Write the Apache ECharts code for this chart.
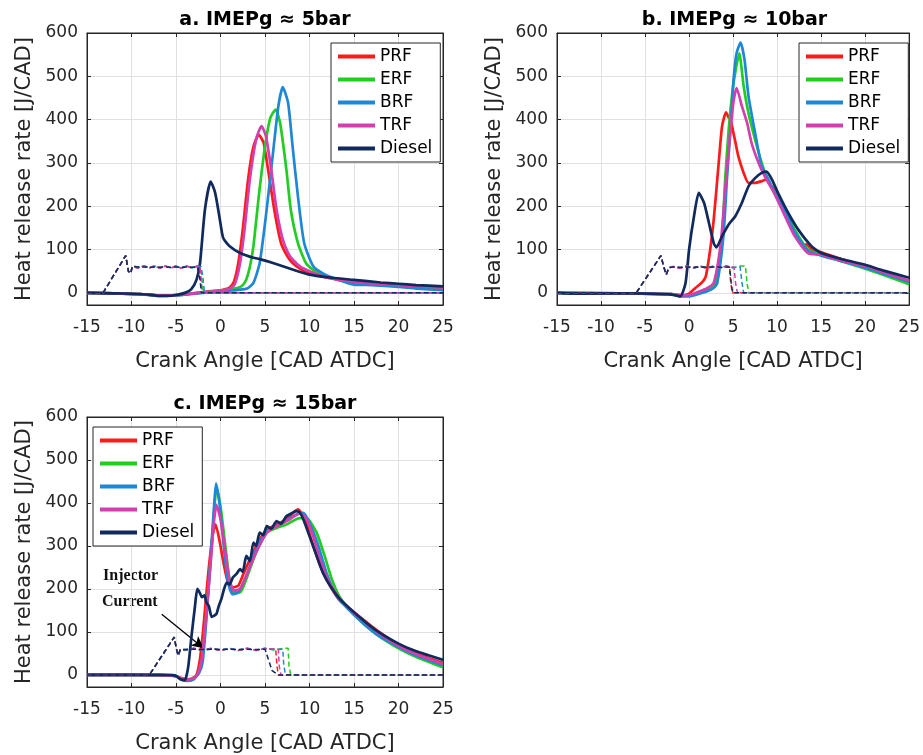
<!DOCTYPE html>
<html>
<head>
<meta charset="utf-8">
<script src="https://cdn.jsdelivr.net/npm/echarts@6.0.0/dist/echarts.min.js"></script>
<style>
html,body{margin:0;padding:0;background:#fff;}
#chart{width:923px;height:755px;}
</style>
</head>
<body>
<div id="chart"></div>
<script>
// ---------- data ----------
const fuels = ['PRF', 'ERF', 'BRF', 'TRF', 'Diesel'];
const panelTitles = ['a. IMEPg \u2248 5bar', 'b. IMEPg \u2248 10bar', 'c. IMEPg \u2248 15bar'];
const xTicks = [-15, -10, -5, 0, 5, 10, 15, 20, 25];
const yTicks = [0, 100, 200, 300, 400, 500, 600];

// Panel a: heat release rate [x (CAD ATDC), y (J/CAD)]
const a_PRF = [[-15,0],[-12,-1],[-9,-3],[-7,-6],[-5,-5],[-3,-1],[-2,2],[-1,4],[0,6],[0.5,8],[1,12],[1.5,25],[2,69],[2.5,146],[3.1,262],[3.7,338],[4.3,365],[4.85,346],[5.4,277],[6.1,185],[6.8,115],[7.5,85],[8.1,69],[9,55],[10,46],[11,40],[12,35],[13,31],[14,27],[15,24],[16,23],[17,22],[18,20],[20,18],[22,15],[25,12]];
const a_ERF = [[-15,0],[-12,-1],[-9,-3],[-7,-6],[-5,-5],[-3,-1],[-2,1],[-1,3],[0,5],[1,8],[2,12],[2.5,18],[2.9,31],[3.3,60],[3.7,108],[4.3,223],[5.0,338],[5.6,404],[6.2,423],[6.7,392],[7.4,285],[7.9,192],[8.7,115],[9.6,69],[10.5,52],[11.5,42],[13,32],[15,22],[17,20],[20,16],[22,12],[25,8]];
const a_BRF = [[-15,0],[-12,-1],[-9,-3],[-7,-7],[-5,-6],[-3,-2],[-2,0],[-1,2],[0,3],[1,5],[2,7],[3,10],[3.7,23],[4.4,69],[5.1,177],[5.9,323],[6.5,431],[7.0,475],[7.6,438],[8.1,338],[8.7,223],[9.4,115],[10.4,62],[11.5,45],[13,32],[15,19],[17,18],[20,14],[22,10],[25,6]];
const a_TRF = [[-15,0],[-12,-1],[-9,-3],[-7,-6],[-5,-5],[-3,-1],[-2,1],[-1,3],[0,5],[1,9],[1.6,20],[2.2,69],[2.7,146],[3.3,262],[4.0,354],[4.6,385],[5.1,362],[5.7,285],[6.3,192],[7.0,123],[7.6,92],[8.1,77],[9,60],[10,50],[11,42],[12,36],[13,31],[14,28],[15,26],[17,22],[20,18],[22,15],[25,12]];
const a_Diesel = [[-15,0],[-12,-1],[-10,-2],[-8,-4],[-7,-7],[-6,-7],[-5,-5],[-4,0],[-3.3,8],[-2.7,30],[-2.3,69],[-1.75,192],[-1.1,257],[-0.6,231],[-0.07,169],[0.3,127],[1.0,108],[2.2,92],[3.7,81],[4.4,78],[5.9,69],[8.1,54],[10,42],[12,36],[15,30],[18,24],[20,21],[22,18],[25,15]];

// Panel b
const b_PRF = [[-15,0],[-12,-1],[-8,-1],[-5,-2],[-2,-3],[-1,-5],[-0.5,-5],[0,-2],[0.75,12],[1.5,25],[1.9,38],[2.4,100],[2.8,169],[3.4,308],[3.75,385],[4.2,417],[4.5,405],[4.7,400],[5.2,354],[5.6,315],[6.2,277],[6.75,254],[7.5,254],[8.25,258],[8.8,262],[9.2,250],[9.75,238],[10.9,192],[12,138],[13.1,108],[13.3,112],[14,100],[15,94],[17,80],[20,62],[22,48],[25,25]];
const b_ERF = [[-15,0],[-8,-1],[-2,-3],[-1,-7],[0,-6],[1,0],[2,6],[2.6,12],[3.0,23],[3.75,131],[4.1,262],[4.5,377],[4.95,469],[5.3,515],[5.7,553],[6.2,477],[6.75,415],[7.5,354],[8.25,300],[8.8,269],[9.75,231],[10.9,192],[12,146],[13.5,100],[15,88],[17,75],[20,56],[22,42],[25,20]];
const b_BRF = [[-15,0],[-8,-1],[-2,-3],[-1,-8],[0,-8],[1,-3],[2,3],[2.7,10],[3.2,23],[3.9,131],[4.3,262],[4.7,377],[5.05,492],[5.4,554],[5.85,578],[6.3,538],[6.75,454],[7.5,369],[8.25,292],[9.0,262],[9.75,231],[10.9,190],[12,140],[13.5,98],[15,86],[17,75],[20,58],[22,45],[25,25]];
const b_TRF = [[-15,0],[-8,-1],[-2,-3],[-1,-6],[0,-5],[1,2],[2,10],[2.8,23],[3.6,115],[4.1,238],[4.6,354],[5.05,442],[5.4,473],[6.0,431],[6.6,392],[7.1,346],[7.9,300],[8.6,269],[9.75,227],[10.9,177],[12,131],[13.5,92],[15,88],[17,76],[20,62],[22,48],[25,28]];
const b_Diesel = [[-15,0],[-12,-2],[-8,-1],[-4,-2],[-2,-4],[-1,-8],[-0.4,23],[0,100],[0.56,177],[1.1,231],[1.7,208],[2.25,162],[2.8,115],[3.1,105],[3.75,131],[4.5,158],[5.25,177],[6.0,208],[6.75,246],[7.5,265],[8.25,277],[8.8,280],[9.4,262],[10.1,231],[11.25,185],[12.4,146],[13.9,108],[15,92],[17.5,77],[20,65],[22,52],[25,35]];

// Panel c
const c_PRF = [[-15,0],[-10,0],[-6,-1],[-5,-3],[-4.3,-8],[-3.8,-10],[-3.2,-8],[-2.7,0],[-2.3,38],[-1.9,115],[-1.4,231],[-0.9,323],[-0.55,350],[-0.07,308],[0.4,254],[0.85,215],[1.4,204],[2.0,208],[2.5,231],[3.0,255],[3.5,277],[4.4,315],[5.2,338],[6.3,350],[7.4,362],[8.7,385],[9.5,362],[10.2,315],[11.2,254],[12.3,208],[13.4,173],[15,146],[17.5,105],[20,70],[22,50],[25,28]];
const c_ERF = [[-15,0],[-10,0],[-6,-1],[-5,-3],[-4.3,-10],[-3.8,-12],[-3.0,-8],[-2.5,5],[-2.1,31],[-1.6,138],[-1.1,269],[-0.75,369],[-0.45,435],[0,392],[0.5,308],[0.95,231],[1.4,192],[2.2,192],[2.9,223],[4.0,285],[5.2,331],[6.3,342],[7.4,350],[8.9,365],[9.85,362],[10.8,331],[11.7,277],[12.5,223],[13.4,181],[15,140],[17.5,95],[20,62],[22,42],[25,18]];
const c_BRF = [[-15,0],[-10,0],[-6,-1],[-5,-3],[-4.3,-12],[-3.8,-14],[-3.0,-10],[-2.4,5],[-2.0,31],[-1.5,154],[-1.0,308],[-0.7,400],[-0.5,445],[-0.07,392],[0.4,292],[0.85,215],[1.35,188],[2.0,192],[2.9,231],[4.0,292],[5.2,335],[6.7,350],[8.2,369],[9.3,377],[10.0,354],[11.0,300],[11.9,238],[13.0,185],[15,140],[17.5,95],[20,65],[22,45],[25,22]];
const c_TRF = [[-15,0],[-10,0],[-6,-1],[-5,-3],[-4.3,-9],[-3.8,-11],[-3.0,-8],[-2.5,5],[-2.1,38],[-1.6,138],[-1.1,262],[-0.75,354],[-0.45,395],[0,362],[0.5,292],[1.0,223],[1.5,196],[2.2,200],[2.9,231],[4.0,285],[5.2,331],[6.3,346],[7.8,362],[8.9,377],[9.7,362],[10.4,323],[11.3,262],[12.3,212],[13.4,177],[15,145],[17.5,102],[20,68],[22,48],[25,25]];
const c_Diesel = [[-15,0],[-10,0],[-6,0],[-5,-2],[-4.5,-10],[-4.0,-12],[-3.8,0],[-3.6,23],[-3.25,92],[-2.9,154],[-2.6,200],[-2.3,190],[-2.1,181],[-1.8,185],[-1.6,169],[-1.3,160],[-1.0,135],[-0.7,138],[-0.45,142],[-0.2,160],[0.1,177],[0.4,200],[0.7,215],[1.0,210],[1.4,227],[1.8,235],[2.2,246],[2.5,240],[2.9,277],[3.3,265],[3.7,308],[4.0,300],[4.4,331],[4.8,325],[5.2,346],[5.7,340],[6.3,358],[6.8,352],[7.4,369],[7.9,375],[8.5,381],[8.9,378],[9.3,362],[10,323],[10.8,277],[11.5,238],[12.3,208],[13.4,177],[15,146],[17.2,108],[20,73],[22,55],[25,35]];

// Injector current traces (dashed)
const a_inj_PRF = [[-15,0],[-13.2,0],[-10.65,86],[-10.35,50],[-10.1,45],[-9.9,62],[-9.3,58],[-8.6,62],[-8,57],[-7.4,62],[-6.8,57],[-6.2,62],[-5.6,57],[-5,62],[-4.4,57],[-3.8,62],[-3.2,57],[-2.6,62],[-2.3,60],[-2.1,8],[-1.95,0],[25,0]];
const a_inj_ERF = [[-15,0],[-13.2,0],[-10.65,86],[-10.35,50],[-10.1,45],[-9.9,61],[-9.3,57],[-8.6,63],[-8,58],[-7.4,61],[-6.8,58],[-6.2,61],[-5.6,58],[-5,61],[-4.4,58],[-3.8,61],[-3.2,58],[-2.6,61],[-2.2,60],[-2.0,10],[-1.85,0],[25,0]];
const a_inj_BRF = [[-15,0],[-13.2,0],[-10.65,86],[-10.35,50],[-10.1,45],[-9.9,60],[-9.3,59],[-8.6,61],[-8,59],[-7.4,62],[-6.8,58],[-6.2,62],[-5.6,58],[-5,62],[-4.4,58],[-3.8,62],[-3.2,58],[-2.6,62],[-2.2,61],[-2.0,40],[-1.8,0],[25,0]];
const a_inj_TRF = [[-15,0],[-13.2,0],[-10.65,86],[-10.35,50],[-10.1,45],[-9.9,62],[-9.3,57],[-8.6,62],[-8,58],[-7.4,62],[-6.8,57],[-6.2,62],[-5.6,57],[-5,62],[-4.4,57],[-3.8,62],[-3.2,57],[-2.6,62],[-2.3,60],[-2.15,10],[-2.0,0],[25,0]];
const a_inj_Diesel = [[-15,0],[-13.2,0],[-10.65,86],[-10.35,50],[-10.1,45],[-9.9,62],[-9.3,60],[-8.6,60],[-8,59],[-7.4,60],[-6.8,59],[-6.2,60],[-5.6,59],[-5,60],[-4.4,59],[-3.8,60],[-3.2,59],[-2.6,60],[-2.4,58],[-2.3,30],[-2.15,0],[25,0]];

const b_inj_PRF = [[-15,0],[-6,0],[-3.2,86],[-2.9,62],[-2.6,42],[-2.3,58],[-1.8,60],[-1,57],[-0.3,62],[0.5,58],[1.2,62],[2,57],[2.8,62],[3.6,58],[4.2,61],[4.6,60],[4.7,30],[4.9,0],[25,0]];
const b_inj_ERF = [[-15,0],[-6,0],[-3.2,86],[-2.9,62],[-2.6,42],[-2.3,58],[-1.8,61],[-1,58],[-0.3,61],[0.5,57],[1.2,61],[2,58],[2.8,61],[3.6,57],[4.2,62],[5.0,58],[5.8,62],[6.4,62],[6.6,20],[6.8,0],[25,0]];
const b_inj_BRF = [[-15,0],[-6,0],[-3.2,86],[-2.9,62],[-2.6,42],[-2.3,58],[-1.8,60],[-1,58],[-0.3,62],[0.5,57],[1.2,62],[2,58],[2.8,62],[3.6,57],[4.2,62],[5.0,58],[5.8,60],[6.0,25],[6.2,0],[25,0]];
const b_inj_TRF = [[-15,0],[-6,0],[-3.2,86],[-2.9,62],[-2.6,42],[-2.3,58],[-1.8,61],[-1,57],[-0.3,61],[0.5,58],[1.2,61],[2,57],[2.8,61],[3.6,58],[4.2,61],[5.1,60],[5.3,20],[5.5,0],[25,0]];
const b_inj_Diesel = [[-15,0],[-6,0],[-3.2,86],[-2.9,62],[-2.6,42],[-2.3,58],[-1.8,60],[-1,59],[-0.3,60],[0.5,59],[1.2,60],[2,59],[2.8,60],[3.6,59],[4.2,60],[4.6,60],[4.8,20],[4.95,0],[25,0]];

const c_inj_PRF = [[-15,0],[-8,0],[-5.2,88],[-4.95,60],[-4.75,45],[-4.5,60],[-4,58],[-3,62],[-2,58],[-1,62],[0,57],[1,62],[2,57],[3,62],[4,57],[5,61],[6.2,60],[6.35,20],[6.5,0],[25,0]];
const c_inj_ERF = [[-15,0],[-8,0],[-5.2,88],[-4.95,60],[-4.75,45],[-4.5,60],[-4,57],[-3,61],[-2,57],[-1,61],[0,58],[1,61],[2,58],[3,61],[4,58],[5,62],[6,58],[7,62],[7.6,62],[7.7,20],[7.9,0],[25,0]];
const c_inj_BRF = [[-15,0],[-8,0],[-5.2,88],[-4.95,60],[-4.75,45],[-4.5,60],[-4,59],[-3,62],[-2,57],[-1,62],[0,58],[1,62],[2,58],[3,62],[4,58],[5,62],[6,59],[7.0,60],[7.1,25],[7.3,0],[25,0]];
const c_inj_TRF = [[-15,0],[-8,0],[-5.2,88],[-4.95,60],[-4.75,45],[-4.5,60],[-4,58],[-3,61],[-2,58],[-1,61],[0,57],[1,61],[2,57],[3,61],[4,57],[5,61],[6.5,60],[6.6,20],[6.8,0],[25,0]];
const c_inj_Diesel = [[-15,0],[-8,0],[-5.2,88],[-4.95,60],[-4.75,45],[-4.5,60],[-4,59],[-3,60],[-2,59],[-1,60],[0,59],[1,60],[2,59],[3,60],[4,59],[5,60],[5.2,60],[5.4,35],[5.8,10],[6.5,0],[25,0]];

const hrr = [
  [a_PRF, a_ERF, a_BRF, a_TRF, a_Diesel],
  [b_PRF, b_ERF, b_BRF, b_TRF, b_Diesel],
  [c_PRF, c_ERF, c_BRF, c_TRF, c_Diesel]
];
const inj = [
  [a_inj_PRF, a_inj_ERF, a_inj_BRF, a_inj_TRF, a_inj_Diesel],
  [b_inj_PRF, b_inj_ERF, b_inj_BRF, b_inj_TRF, b_inj_Diesel],
  [c_inj_PRF, c_inj_ERF, c_inj_BRF, c_inj_TRF, c_inj_Diesel]
];
// annotation arrow (panel c), data coordinates
const arrowFrom = [-6.6, 141];
const arrowTo = [-1.9, 62];

// ---------- styling ----------
const colors = ['#ff1a1a', '#22cc22', '#1f88d6', '#d23fae', '#102a5c'];
const FONT = '"DejaVu Sans", "Liberation Sans", Arial, sans-serif';
const AX = '#262626';
const grids = [
  {left: 87, top: 33, width: 356, height: 272},
  {left: 557, top: 33, width: 355, height: 272},
  {left: 87, top: 417, width: 356, height: 272}
];
const legendPos = [{left: 331, top: 43}, {left: 799, top: 43}, {left: 93, top: 427}];

const xAxes = [], yAxes = [], series = [], legends = [], graphics = [];
grids.forEach((g, p) => {
  xAxes.push({
    type: 'value', gridIndex: p, min: xTicks[0], max: xTicks[xTicks.length - 1], interval: 5,
    position: 'bottom',
    name: 'Crank Angle [CAD ATDC]', nameLocation: 'middle', nameGap: 46,
    nameTextStyle: {fontFamily: FONT, fontSize: 21, color: AX},
    axisLine: {show: true, onZero: false, lineStyle: {color: AX, width: 1}},
    axisTick: {show: true, inside: true, length: 4, lineStyle: {color: AX}},
    axisLabel: {fontFamily: FONT, fontSize: 17, color: AX, margin: 14},
    splitLine: {show: true, lineStyle: {color: '#e0e0e0', width: 1}}
  });
  xAxes.push({
    type: 'value', gridIndex: p, min: xTicks[0], max: xTicks[xTicks.length - 1], interval: 5,
    position: 'top',
    axisLine: {show: true, onZero: false, lineStyle: {color: AX, width: 1}},
    axisTick: {show: true, inside: true, length: 4, lineStyle: {color: AX}},
    axisLabel: {show: false}, splitLine: {show: false}
  });
  yAxes.push({
    type: 'value', gridIndex: p, min: -28, max: yTicks[yTicks.length - 1], splitNumber: 6,
    position: 'left',
    name: 'Heat release rate [J/CAD]', nameLocation: 'middle', nameGap: 52,
    nameTextStyle: {fontFamily: FONT, fontSize: 21, color: AX},
    axisLine: {show: true, onZero: false, lineStyle: {color: AX, width: 1}},
    axisTick: {show: true, inside: true, length: 4, lineStyle: {color: AX}},
    axisLabel: {fontFamily: FONT, fontSize: 17, color: AX, margin: 9, showMinLabel: false},
    splitLine: {show: true, lineStyle: {color: '#e0e0e0', width: 1}}
  });
  yAxes.push({
    type: 'value', gridIndex: p, min: -28, max: yTicks[yTicks.length - 1], splitNumber: 6,
    position: 'right',
    axisLine: {show: true, onZero: false, lineStyle: {color: AX, width: 1}},
    axisTick: {show: true, inside: true, length: 4, lineStyle: {color: AX}},
    axisLabel: {show: false}, splitLine: {show: false}
  });
  fuels.forEach((f, i) => {
    series.push({
      name: f, type: 'line', xAxisIndex: 2 * p, yAxisIndex: 2 * p,
      data: hrr[p][i], showSymbol: false, symbol: 'none', smooth: 0.2,
      color: colors[i], lineStyle: {color: colors[i], width: 2.7},
      z: 3 + i, silent: true
    });
  });
  fuels.forEach((f, i) => {
    const s = {
      name: f + ' injector', type: 'line', xAxisIndex: 2 * p, yAxisIndex: 2 * p,
      data: inj[p][i], showSymbol: false, symbol: 'none',
      color: colors[i], lineStyle: {color: colors[i], width: 1.5, type: [5, 3]},
      z: 10 + i, silent: true
    };
    if (p === 2 && i === 4) {
      s.markLine = {
        silent: true, symbol: ['none', 'arrow'], symbolSize: [9, 12],
        label: {show: false},
        lineStyle: {color: '#000', width: 1.3, type: 'solid'},
        data: [[{coord: arrowFrom}, {coord: arrowTo}]]
      };
    }
    series.push(s);
  });
  legends.push({
    show: true, orient: 'vertical', left: legendPos[p].left, top: legendPos[p].top,
    data: fuels, icon: 'rect', itemWidth: 37, itemHeight: 4, itemGap: 6,
    padding: [5, 8, 5, 7], backgroundColor: '#fff', borderColor: AX, borderWidth: 1, borderRadius: 0,
    textStyle: {fontFamily: FONT, fontSize: 17, color: '#000', lineHeight: 17},
    selectedMode: false
  });
  graphics.push({
    type: 'text', x: g.left + g.width / 2, y: g.top - 13,
    style: {text: panelTitles[p], align: 'center', verticalAlign: 'middle',
            font: 'bold 19px ' + FONT, fill: '#000'}
  });
});
graphics.push({
  type: 'text', x: 103, y: 576,
  style: {text: 'Injector', align: 'left', verticalAlign: 'middle',
          font: 'bold 16px "Liberation Serif", "Times New Roman", serif', fill: '#111'}
});
graphics.push({
  type: 'text', x: 102, y: 602,
  style: {text: 'Current', align: 'left', verticalAlign: 'middle',
          font: 'bold 16px "Liberation Serif", "Times New Roman", serif', fill: '#111'}
});

const chart = echarts.init(document.getElementById('chart'), null, {renderer: 'canvas'});
chart.setOption({
  animation: false,
  backgroundColor: '#fff',
  grid: grids.map(g => Object.assign({show: true, borderColor: AX, borderWidth: 1, backgroundColor: 'transparent', containLabel: false}, g)),
  xAxis: xAxes,
  yAxis: yAxes,
  legend: legends,
  series: series,
  graphic: graphics
});
</script>
</body>
</html>
